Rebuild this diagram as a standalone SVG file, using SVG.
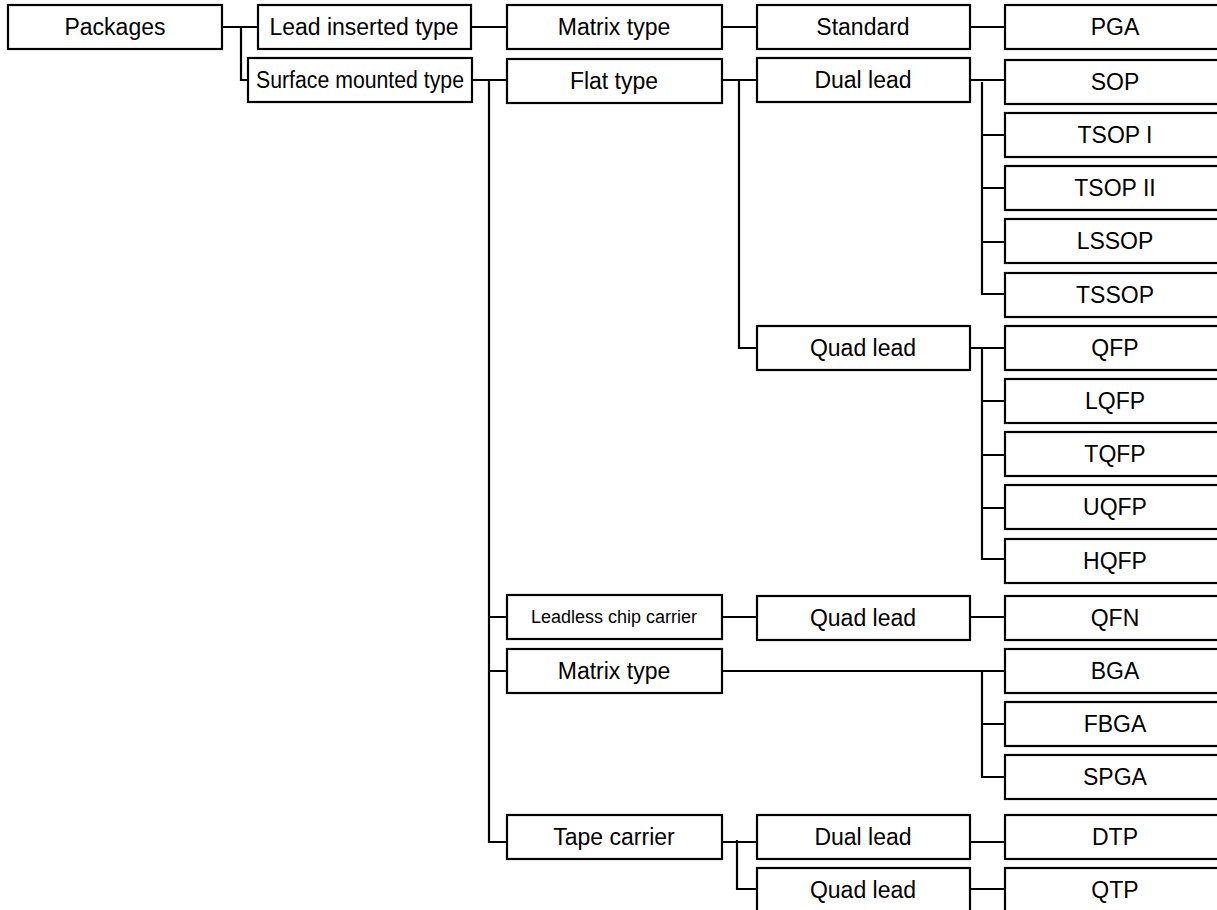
<svg xmlns="http://www.w3.org/2000/svg" width="1217" height="910" viewBox="0 0 1217 910">
<style>
.box{fill:#fff;stroke:#000;stroke-width:2.2}
.t{font-family:"Liberation Sans",Arial,sans-serif;font-size:23px;fill:#000;text-anchor:middle}
.s{font-size:18px}
.c{fill:none;stroke:#000;stroke-width:2.2}
</style>
<rect width="1217" height="910" fill="#fff"/>
<g id="connectors" class="c">
<path d="M222,27 H258 M241,27 V80 H248"/>
<path d="M471,27 H507 M722,27 H757 M970,27 H1005"/>
<path d="M472,80 H507 M489,81 V842 H507 M489,617 H507 M489,671 H507"/>
<path d="M722,80 H757 M739,81 V348 H757"/>
<path d="M970,80 H1005 M982,82 V294 H1005 M982,135 H1005 M982,188 H1005 M982,242 H1005"/>
<path d="M970,348 H1005 M982,348 V559 H1005 M982,401 H1005 M982,455 H1005 M982,508 H1005"/>
<path d="M722,617 H757 M970,617 H1005"/>
<path d="M722,671 H1005 M982,671 V777 H1005 M982,724 H1005"/>
<path d="M722,842 H757 M737,840 V889 H757 M970,842 H1005 M970,889 H1005"/>
</g>
<g id="packages"><rect class="box" x="8" y="5" width="214" height="44"/><text class="t" x="115" y="35">Packages</text></g>
<g id="lead-inserted"><rect class="box" x="258" y="5" width="213" height="44"/><text class="t" x="364" y="35">Lead inserted type</text></g>
<g id="surface-mounted"><rect class="box" x="248" y="58" width="224" height="44"/><text class="t" x="360" y="88" textLength="208" lengthAdjust="spacingAndGlyphs">Surface mounted type</text></g>
<g id="matrix-1"><rect class="box" x="507" y="5" width="215" height="44"/><text class="t" x="614" y="35">Matrix type</text></g>
<g id="flat"><rect class="box" x="507" y="59" width="215" height="44"/><text class="t" x="614" y="89">Flat type</text></g>
<g id="leadless"><rect class="box" x="507" y="595" width="215" height="44"/><text class="t s" x="614" y="623">Leadless chip carrier</text></g>
<g id="matrix-2"><rect class="box" x="507" y="649" width="215" height="44"/><text class="t" x="614" y="679">Matrix type</text></g>
<g id="tape"><rect class="box" x="507" y="815" width="215" height="44"/><text class="t" x="614" y="845">Tape carrier</text></g>
<g id="standard"><rect class="box" x="757" y="5" width="213" height="44"/><text class="t" x="863" y="35">Standard</text></g>
<g id="dual-1"><rect class="box" x="757" y="58" width="213" height="44"/><text class="t" x="863" y="88">Dual lead</text></g>
<g id="quad-1"><rect class="box" x="757" y="326" width="213" height="44"/><text class="t" x="863" y="356">Quad lead</text></g>
<g id="quad-2"><rect class="box" x="757" y="596" width="213" height="44"/><text class="t" x="863" y="626">Quad lead</text></g>
<g id="dual-2"><rect class="box" x="757" y="815" width="213" height="44"/><text class="t" x="863" y="845">Dual lead</text></g>
<g id="quad-3"><rect class="box" x="757" y="868" width="213" height="50"/><text class="t" x="863" y="898">Quad lead</text></g>
<g id="pga"><rect class="box" x="1005" y="5" width="220" height="44"/><text class="t" x="1115" y="35">PGA</text></g>
<g id="sop"><rect class="box" x="1005" y="60" width="220" height="44"/><text class="t" x="1115" y="90">SOP</text></g>
<g id="tsop1"><rect class="box" x="1005" y="113" width="220" height="44"/><text class="t" x="1115" y="143">TSOP I</text></g>
<g id="tsop2"><rect class="box" x="1005" y="166" width="220" height="44"/><text class="t" x="1115" y="196">TSOP II</text></g>
<g id="lssop"><rect class="box" x="1005" y="219" width="220" height="44"/><text class="t" x="1115" y="249">LSSOP</text></g>
<g id="tssop"><rect class="box" x="1005" y="273" width="220" height="44"/><text class="t" x="1115" y="303">TSSOP</text></g>
<g id="qfp"><rect class="box" x="1005" y="326" width="220" height="44"/><text class="t" x="1115" y="356">QFP</text></g>
<g id="lqfp"><rect class="box" x="1005" y="379" width="220" height="44"/><text class="t" x="1115" y="409">LQFP</text></g>
<g id="tqfp"><rect class="box" x="1005" y="432" width="220" height="44"/><text class="t" x="1115" y="462">TQFP</text></g>
<g id="uqfp"><rect class="box" x="1005" y="485" width="220" height="44"/><text class="t" x="1115" y="515">UQFP</text></g>
<g id="hqfp"><rect class="box" x="1005" y="539" width="220" height="44"/><text class="t" x="1115" y="569">HQFP</text></g>
<g id="qfn"><rect class="box" x="1005" y="596" width="220" height="44"/><text class="t" x="1115" y="626">QFN</text></g>
<g id="bga"><rect class="box" x="1005" y="649" width="220" height="44"/><text class="t" x="1115" y="679">BGA</text></g>
<g id="fbga"><rect class="box" x="1005" y="702" width="220" height="44"/><text class="t" x="1115" y="732">FBGA</text></g>
<g id="spga"><rect class="box" x="1005" y="755" width="220" height="44"/><text class="t" x="1115" y="785">SPGA</text></g>
<g id="dtp"><rect class="box" x="1005" y="815" width="220" height="44"/><text class="t" x="1115" y="845">DTP</text></g>
<g id="qtp"><rect class="box" x="1005" y="868" width="220" height="50"/><text class="t" x="1115" y="898">QTP</text></g>
</svg>
